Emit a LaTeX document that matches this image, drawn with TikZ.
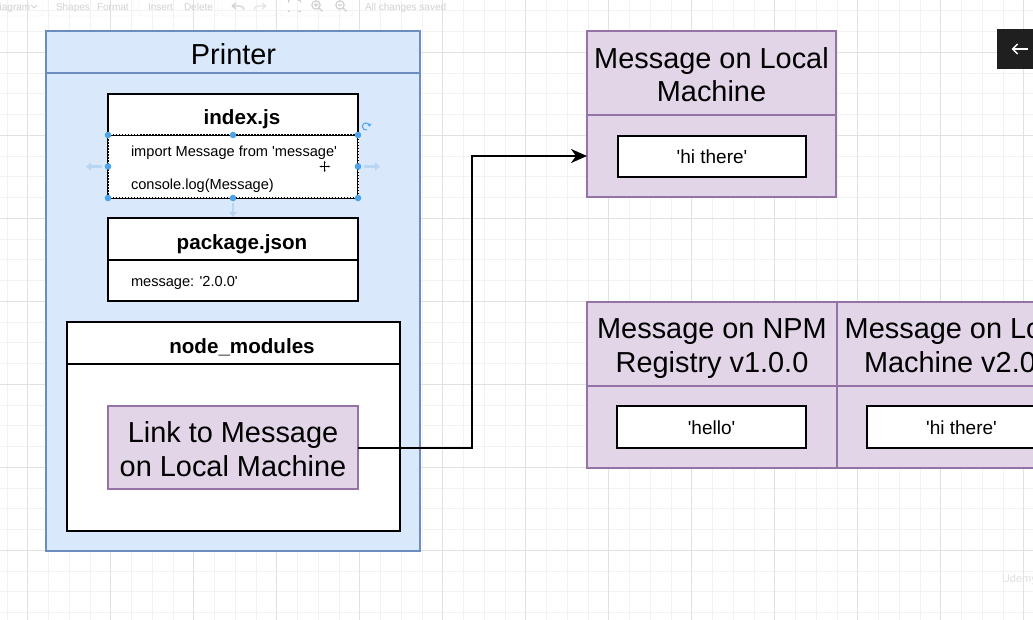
\documentclass[tikz,border=0pt]{standalone}
\usepackage{fontspec}
\setmainfont{Liberation Sans}[Ligatures=TeXOff]
\usetikzlibrary{arrows.meta}
\definecolor{bluefill}{HTML}{DAE8FC}
\definecolor{blueedge}{HTML}{6C8EBF}
\definecolor{lilacfill}{HTML}{E1D5E7}
\definecolor{lilacedge}{HTML}{9673A6}
\definecolor{gridminor}{HTML}{F2F2F2}
\definecolor{gridmajor}{HTML}{E1E1E1}
\definecolor{selblue}{HTML}{4DA3EA}
\definecolor{hintblue}{HTML}{B8D5F2}
\definecolor{uigray}{HTML}{D2D2D2}
\newcommand\fsz[2]{\fontsize{#1}{#2}\selectfont}
\begin{document}
\begin{tikzpicture}[x=1pt,y=-1pt,
  every node/.style={inner sep=0pt, outer sep=0pt},
  sized/.style 2 args={minimum width=#1, minimum height=#2, anchor=north west},
  bluebox/.style={draw=blueedge, fill=bluefill, line width=2pt},
  whitebox/.style={draw=black, fill=white, line width=2pt},
  lilacbox/.style={draw=lilacedge, fill=lilacfill, line width=1.6pt},
  bigtext/.style={font=\fsz{28.9}{33}, anchor=base},
  boldtext/.style={font=\bfseries\fsz{20.6}{24}, anchor=base},
  codetext/.style={font=\fsz{14.6}{17}, anchor=base west},
  valtext/.style={font=\fsz{19}{22}, anchor=base},
  uitext/.style={font=\fsz{10}{12}, text=uigray, anchor=base west},
  link/.style={line width=2pt, -{Stealth[length=16pt,width=14pt,inset=5pt]}},
  hint/.style={hintblue, line width=2.5pt, -{Triangle[length=5pt,width=8pt]}},
]
\path[use as bounding box] (0,0) rectangle (1033,620);
\clip (0,0) rectangle (1033,620);
\fill[white] (0,0) rectangle (1033,620);
% grid
\foreach \i in {0,...,50} {
  \pgfmathsetmacro\xx{6.95+20.75*\i}
  \draw[gridminor, line width=0.8pt] (\xx,0) -- (\xx,620);
}
\foreach \i in {0,...,30} {
  \pgfmathsetmacro\yy{10.8+20.75*\i}
  \draw[gridminor, line width=0.8pt] (0,\yy) -- (1033,\yy);
}
\foreach \i in {0,...,12} {
  \pgfmathsetmacro\xx{27.7+83*\i}
  \draw[gridmajor, line width=0.9pt] (\xx,0) -- (\xx,620);
}
\foreach \i in {0,...,7} {
  \pgfmathsetmacro\yy{52.3+83*\i}
  \draw[gridmajor, line width=0.9pt] (0,\yy) -- (1033,\yy);
}
% faint toolbar
\draw[uigray!45, rounded corners=3pt] (-6,-5) rectangle (43,16);
\draw[uigray!45, rounded corners=3pt] (48,-5) rectangle (134,16);
\draw[uigray!45, rounded corners=3pt] (139,-5) rectangle (218,16);
\draw[uigray!45, rounded corners=3pt] (222,-5) rectangle (276,16);
\draw[uigray!45, rounded corners=3pt] (280,-5) rectangle (353,16);
\node[uitext] (tbdiagram) at (-7.5,10.5) {Diagram};
\draw[uigray, line width=0.8pt] (31,5) -- (34,8) -- (37,5);
\node[uitext] (tbshapes) at (56,10.5) {Shapes};
\node[uitext] (tbformat) at (97,10.5) {Format};
\node[uitext] (tbinsert) at (148,10.5) {Insert};
\node[uitext] (tbdelete) at (184,10.5) {Delete};
\node[uitext] (tbsaved) at (365,10.5) {All changes saved};
\draw[uigray, line width=1.2pt] (232,6) -- (236,3) (232,6) -- (236,9) (232,6) -- (240,6) to[out=0,in=90] (244,10);
\draw[uigray!60, line width=1.2pt] (266,6) -- (262,3) (266,6) -- (262,9) (266,6) -- (258,6) to[out=180,in=90] (254,10);
\draw[uigray, line width=1pt] (288,3) -- (288,1) -- (290,1) (298,1) -- (300,1) -- (300,3) (300,10) -- (300,12) -- (298,12) (290,12) -- (288,12) -- (288,10);
\draw[uigray, line width=1.2pt] (316,5) circle (4.2pt) (319,8) -- (322.5,11.5) (314,5) -- (318,5) (316,3) -- (316,7);
\draw[uigray, line width=1.2pt] (340,5) circle (4.2pt) (343,8) -- (346.5,11.5) (338,5) -- (342,5);
% Printer container
\node[bluebox, sized={374}{42}] (printerhead) at (46,31) {};
\node[bluebox, sized={374}{478}] (printerbody) at (46,73) {};
\node[bigtext] (printertitle) at (233.5,65) {Printer};
% index.js
\node[whitebox, sized={250}{41}] (indexhead) at (108,94) {};
\node[whitebox, sized={250}{63}] (indexbody) at (108,135) {};
\node[boldtext] (indextitle) at (242,125) {index.js};
\node[codetext] (importline) at (131,156.7) {import Message from 'message'};
\node[codetext] (consoleline) at (131,189.3) {console.log(Message)};
% selection marks on index.js body
\draw[white, line width=1pt, dash pattern=on 1.5pt off 1.5pt] (indexbody.north west) rectangle (indexbody.south east);
\foreach \a in {north west,north,north east,west,east,south west,south,south east}
  \fill[selblue] (indexbody.\a) circle (3.3pt);
\draw[hint] ([xshift=-6pt]indexbody.west) -- ++(-16,0);
\draw[hint] ([xshift=6pt]indexbody.east) -- ++(16,0);
\draw[selblue, line width=1pt] (369.5,126.5) arc[start angle=0, end angle=290, radius=3.6pt];
\fill[selblue] (369.5,126.5) -- ++(-2,-2.5) -- ++(4,0) -- cycle;
\draw[line width=1.1pt, {Latex[length=2.6pt]}-{Latex[length=2.6pt]}] (319,166.5) -- (330.5,166.5);
\draw[line width=1.1pt, {Latex[length=2.6pt]}-{Latex[length=2.6pt]}] (324.7,160.5) -- (324.7,172.5);
% package.json
\node[whitebox, sized={250}{42}] (pkghead) at (108,218) {};
\node[whitebox, sized={250}{41}] (pkgbody) at (108,260) {};
\node[boldtext] (pkgtitle) at (242,250) {package.json};
\node[codetext] (pkgline) at (131,287) {message: '2.0.0'};
\draw[hint, line width=2pt] ([yshift=-5pt]indexbody.south) -- ([yshift=1pt]pkghead.north);
% node_modules
\node[whitebox, sized={333}{42}] (nmhead) at (67,322) {};
\node[whitebox, sized={333}{167}] (nmbody) at (67,364) {};
\node[boldtext] (nmtitle) at (242,353.3) {node\_modules};
\node[lilacbox, sized={250}{83}] (linkbox) at (108,406) {};
\node[bigtext] (linkline1) at (233,442.3) {Link to Message};
\node[bigtext] (linkline2) at (233,476) {on Local Machine};
% Message on Local Machine
\node[lilacbox, sized={249}{84}] (localhead) at (587,31) {};
\node[lilacbox, sized={249}{82}] (localbody) at (587,115) {};
\node[bigtext] (localline1) at (711.5,68.3) {Message on Local};
\node[bigtext] (localline2) at (711.5,101.7) {Machine};
\node[whitebox, sized={188}{41}] (hibox) at (618,136) {};
\node[valtext] (hitext) at (712,164) {'hi there'};
% Message on NPM Registry v1.0.0
\node[lilacbox, sized={250}{84}] (npmhead) at (587,302) {};
\node[lilacbox, sized={250}{82}] (npmbody) at (587,386) {};
\node[bigtext] (npmline1) at (712,338.3) {Message on NPM};
\node[bigtext] (npmline2) at (712,372.7) {Registry v1.0.0};
\node[whitebox, sized={189}{42}] (hellobox) at (617,406) {};
\node[valtext] (hellotext) at (711.5,434) {'hello'};
% Message on Local Machine v2.0.0
\node[lilacbox, sized={250}{84}] (local2head) at (837,302) {};
\node[lilacbox, sized={250}{82}] (local2body) at (837,386) {};
\node[bigtext] (local2line1) at (962,338.3) {Message on Local};
\node[bigtext] (local2line2) at (962,372.7) {Machine v2.0.0};
\node[whitebox, sized={189}{42}] (hibox2) at (867,406) {};
\node[valtext] (hitext2) at (961.5,434) {'hi there'};
% connector
\coordinate (bend) at (472,447.5);
\draw[link] (linkbox.east) -- (bend) |- (localbody.west);
% back button and watermark
\node[fill=black!88, sized={45}{40}] (backbtn) at (997,29) {};
\draw[white, line width=1.5pt, -{Straight Barb[length=5pt,width=10pt]}] ([xshift=-4pt]backbtn.center) ++(12,0) -- ++(-16,0);
\node[font=\fsz{11}{12}, text=black!12, anchor=base west] (udemy) at (1002,582) {Udemy};
\end{tikzpicture}
\end{document}
